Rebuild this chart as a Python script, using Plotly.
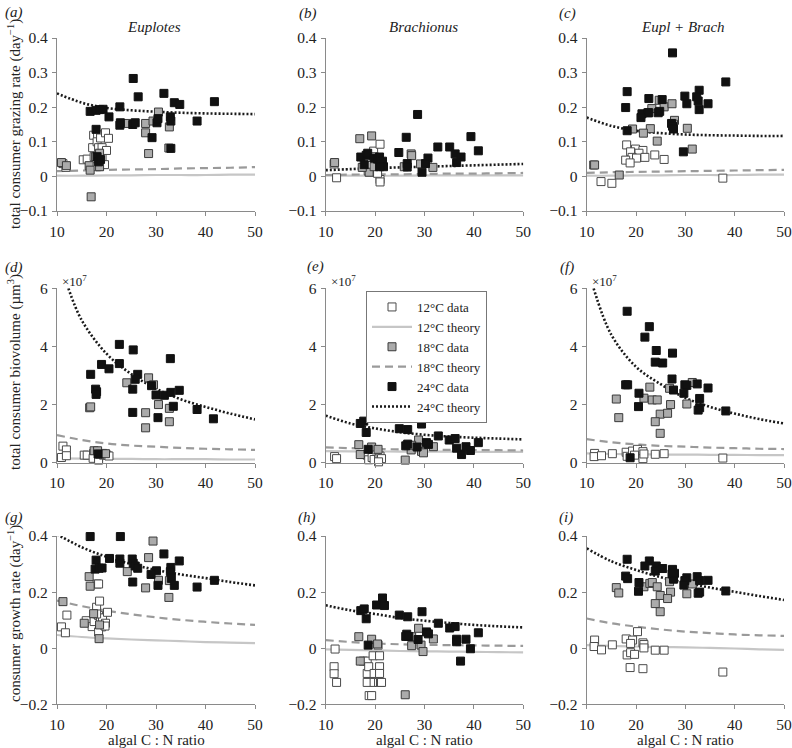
import plotly.graph_objects as go

# ---------------- data ----------------
# x = algal C:N ratio, y = response
A_12 = [(11.2,0.037),(11.8,0.026),(15.3,0.048),(16.1,0.05),(17.4,0.119),(17.2,0.083),(17.5,0.057),(18.2,0.12),
        (18.1,0.1),(18.4,0.083),(18.8,0.111),(19.1,0.083),(19.1,0.057),(19.8,0.126),(20.0,0.075),(20.4,0.11),
        (19.6,0.034),(18.0,0.028)]
A_18 = [(10.9,0.04),(11.9,0.031),(16.5,0.031),(16.7,0.018),(16.9,-0.059),(17.8,0.057),(18.6,0.028),(24.2,0.153),
        (27.9,0.153),(27.9,0.126),(28.5,0.066),(29.4,0.16),(30.5,0.186),(32.7,0.143),(32.6,0.082),(18.6,0.067)]
A_24 = [(25.4,0.283),(26.4,0.23),(31.6,0.24),(33.7,0.213),(34.8,0.208),(41.8,0.216),(16.7,0.188),(17.9,0.191),
        (18.6,0.193),(19.3,0.194),(22.7,0.201),(20.5,0.172),(22.7,0.148),(22.8,0.155),(25.3,0.15),(25.8,0.155),
        (30.2,0.155),(30.4,0.167),(32.9,0.172),(33.0,0.16),(29.2,0.112),(33.0,0.081),(38.3,0.16),(17.9,0.136),
        (18.1,0.057),(18.4,0.042),(18.8,0.049)]

B_12 = [(11.7,0.036),(12.2,-0.004),(19.7,0.073),(21.0,0.093),(19.8,0.057),(19.6,0.032),(20.7,0.033),(21.0,-0.009),
        (21.0,-0.016),(18.6,0.016),(19.9,0.014),(20.5,0.009),(19.0,0.031)]
B_18 = [(11.8,0.04),(16.9,0.109),(19.3,0.117),(27.3,0.065),(27.4,0.06),(29.2,0.036),(25.9,0.028),(31.7,0.026),
        (18.8,0.012),(17.4,0.026),(19.8,0.028)]
B_24 = [(28.6,0.179),(26.3,0.113),(39.4,0.115),(32.7,0.085),(35.1,0.085),(40.9,0.074),(24.8,0.069),(36.2,0.065),
        (37.4,0.056),(30.7,0.053),(36.5,0.04),(30.2,0.037),(26.5,0.037),(26.5,0.027),(29.5,0.012),(17.1,0.056),
        (17.8,0.034),(18.2,0.061),(18.5,0.067),(19.8,0.053),(20.5,0.05),(20.9,0.056),(21.5,0.044),(21.7,0.028),
        (20.9,0.028)]

C_12 = [(18.1,0.091),(19.9,0.079),(21.4,0.075),(18.9,0.071),(20.6,0.067),(19.2,0.055),(20.1,0.053),(21.8,0.055),
        (17.9,0.047),(18.8,0.039),(23.8,0.062),(25.7,0.049),(11.4,0.033),(12.9,-0.015),(15.1,-0.02),(37.6,-0.005)]
C_18 = [(24.7,0.22),(25.7,0.201),(27.3,0.21),(23.2,0.196),(27.8,0.162),(27.6,0.151),(22.9,0.138),(30.4,0.139),
        (19.3,0.137),(21.5,0.125),(24.3,0.102),(31.4,0.079),(16.6,0.004),(11.6,0.033)]
C_24 = [(27.4,0.357),(38.2,0.273),(18.2,0.245),(32.8,0.249),(17.9,0.199),(22.6,0.225),(25.3,0.222),(29.9,0.232),
        (32.3,0.23),(32.6,0.218),(30.3,0.21),(34.6,0.21),(32.8,0.193),(21.2,0.181),(22.4,0.184),(22.6,0.184),
        (24.5,0.184),(24.8,0.188),(21.0,0.17),(18.2,0.132),(27.2,0.153),(27.4,0.145),(27.6,0.137),(29.6,0.071)]

D_12 = [(11.2,0.57),(11.9,0.44),(10.9,0.18),(11.9,0.24),(15.5,0.26),(16.1,0.26),(17.4,0.32),(17.3,0.15),
        (18.4,0.18),(18.4,0.09),(19.2,0.32),(19.4,0.26),(20.1,0.26),(20.5,0.23)]
D_18 = [(16.6,1.89),(16.8,1.92),(24.1,2.75),(28.5,2.92),(29.5,2.68),(30.5,2.0),(27.9,1.72),(32.7,1.87),
        (32.7,1.41),(27.9,1.2),(17.5,0.41),(18.2,0.41),(18.6,0.29),(19.8,0.31)]
D_24 = [(22.6,4.07),(25.4,3.88),(32.9,3.58),(19.0,3.38),(22.6,3.41),(20.5,3.23),(16.8,3.04),(26.3,3.04),
        (25.8,2.87),(17.8,2.53),(18.0,2.44),(17.9,2.35),(25.3,2.53),(29.1,2.65),(30.0,2.33),(31.7,2.32),
        (33.0,2.42),(34.7,2.49),(33.5,1.94),(25.3,1.73),(30.4,1.55),(38.3,1.83),(41.6,1.51),(18.3,0.3)]

E_12 = [(11.8,0.21),(12.2,0.14),(18.4,0.26),(18.7,0.10),(19.4,0.18),(19.8,0.11),(20.7,0.13),(21.0,0.23),
        (21.3,0.14),(20.7,0.03),(20.2,0.44)]
E_18 = [(16.7,0.62),(17.0,0.28),(19.3,0.54),(20.6,0.46),(26.1,0.09),(28.8,0.78),(27.3,0.44),(29.4,0.39),
        (29.8,0.34),(31.8,0.55),(27.4,0.6)]
E_24 = [(21.5,2.04),(20.3,1.65),(21.8,1.58),(17.7,1.43),(17.0,1.35),(18.2,1.04),(24.9,1.17),(26.6,1.14),
        (29.4,1.33),(32.8,0.92),(35.0,0.78),(36.2,0.83),(40.9,0.69),(30.4,0.69),(30.8,0.63),(26.6,0.64),
        (26.2,0.58),(28.5,0.54),(36.5,0.5),(38.4,0.55),(39.3,0.42),(37.5,0.28),(18.6,0.46)]

F_12 = [(11.6,0.32),(11.5,0.21),(13.0,0.24),(15.2,0.31),(18.0,0.36),(18.2,0.22),(19.3,0.4),(20.3,0.46),
        (21.4,0.38),(21.4,0.14),(21.6,0.3),(19.7,0.26),(23.9,0.29),(25.7,0.31),(37.6,0.16)]
F_18 = [(16.0,2.19),(16.5,1.55),(22.8,2.6),(21.6,2.22),(23.3,2.16),(24.3,2.16),(26.8,2.56),(27.0,2.0),
        (31.4,2.76),(30.3,2.02),(24.9,1.67),(26.4,1.7),(23.9,1.41),(24.9,1.01)]
F_24 = [(18.2,5.21),(22.7,4.68),(21.8,4.32),(24.1,3.86),(27.4,3.77),(23.9,3.46),(25.4,3.43),(27.3,2.88),
        (17.9,2.68),(18.3,2.68),(27.6,2.5),(29.9,2.68),(30.3,2.66),(32.4,2.71),(34.6,2.57),(20.6,2.39),
        (29.7,2.39),(32.9,2.21),(20.5,1.93),(32.9,1.89),(32.6,1.81),(38.2,1.78),(18.8,0.17)]

G_12 = [(10.9,0.076),(11.7,0.055),(12.0,0.118),(15.9,0.098),(17.1,0.077),(17.5,0.095),(18.0,0.146),(18.1,0.229),
        (18.4,0.229),(18.4,0.117),(18.6,0.168),(18.8,0.107),(19.0,0.076),(18.4,0.058),(19.2,0.108),(19.8,0.089),
        (20.2,0.128),(19.7,0.079),(18.0,0.122)]
G_18 = [(29.4,0.382),(28.5,0.323),(16.5,0.255),(16.7,0.221),(24.2,0.273),(30.5,0.242),(32.7,0.241),(27.9,0.215),
        (32.6,0.181),(11.2,0.166),(15.5,0.089),(17.4,0.123),(18.6,0.083),(18.5,0.034)]
G_24 = [(16.7,0.398),(22.8,0.398),(31.6,0.336),(17.9,0.314),(20.6,0.32),(22.7,0.318),(22.7,0.303),(25.2,0.318),
        (25.4,0.303),(34.7,0.311),(33.0,0.288),(25.8,0.293),(26.3,0.285),(17.7,0.282),(18.5,0.285),(19.1,0.286),
        (30.1,0.276),(29.0,0.263),(32.9,0.273),(33.1,0.249),(25.3,0.236),(30.4,0.224),(33.7,0.224),(41.8,0.242),
        (38.3,0.218)]

H_12 = [(11.9,-0.003),(11.7,-0.066),(11.7,-0.091),(12.2,-0.122),(17.6,-0.046),(18.4,-0.046),(18.4,-0.09),
        (18.4,-0.122),(18.7,-0.066),(18.8,-0.169),(19.3,-0.169),(19.6,-0.027),(19.8,-0.09),(19.8,-0.122),
        (20.6,0.011),(20.7,-0.122),(20.9,-0.027),(20.9,-0.066),(20.9,-0.09),(21.1,-0.122),(21.3,-0.122)]
H_18 = [(16.7,0.041),(19.3,0.032),(17.0,-0.046),(27.4,0.041),(28.8,0.071),(31.8,0.033),(27.4,0.009),(29.3,0.011),
        (29.7,-0.012),(26.1,-0.166),(20.5,0.015)]
H_24 = [(21.5,0.179),(20.3,0.154),(21.9,0.152),(17.1,0.134),(17.8,0.14),(18.2,0.105),(24.9,0.118),(26.6,0.112),
        (29.5,0.13),(32.8,0.089),(35.1,0.072),(36.2,0.077),(40.9,0.055),(30.4,0.058),(30.8,0.051),(26.4,0.05),
        (26.2,0.042),(26.8,0.042),(28.7,0.031),(36.5,0.032),(38.4,0.032),(36.5,0.023),(39.3,-0.002),(37.3,-0.046),
        (18.6,0.011)]

I_12 = [(11.6,0.029),(11.5,0.006),(13.0,-0.006),(15.2,0.012),(18.0,0.033),(18.2,-0.024),(19.3,0.029),(20.3,0.059),
        (21.4,0.019),(21.6,0.013),(21.6,0.001),(18.9,0.017),(18.9,-0.016),(19.7,-0.022),(18.8,-0.069),(21.4,-0.073),
        (23.9,-0.007),(25.7,-0.007),(37.6,-0.085)]
I_18 = [(16.0,0.216),(16.5,0.197),(21.6,0.219),(22.8,0.231),(23.3,0.234),(24.3,0.219),(26.8,0.237),(27.0,0.2),
        (31.4,0.229),(30.3,0.194),(24.9,0.188),(26.4,0.177),(23.9,0.159),(24.9,0.13)]
I_24 = [(18.2,0.317),(22.7,0.311),(21.8,0.293),(24.1,0.293),(23.9,0.275),(25.4,0.284),(27.4,0.281),(27.3,0.265),
        (17.9,0.257),(18.3,0.248),(27.6,0.246),(30.3,0.251),(29.9,0.241),(32.4,0.255),(34.6,0.242),(20.6,0.234),
        (29.7,0.225),(32.9,0.241),(20.5,0.203),(32.9,0.2),(32.6,0.196),(38.2,0.204),(27.8,0.267)]

# theory curves, read at these C:N values
TX = [10, 15, 20, 25, 30, 35, 40, 45, 50]
D_TX24 = [12.3, 15, 20, 25, 30, 35, 40, 45, 50]
F_TX24 = [11.4, 15, 20, 25, 30, 35, 40, 45, 50]

A_T12 = [0.002, 0.002, 0.003, 0.003, 0.004, 0.004, 0.004, 0.005, 0.005]
A_T18 = [0.015, 0.017, 0.019, 0.020, 0.021, 0.023, 0.024, 0.025, 0.027]
A_T24 = [0.240, 0.213, 0.198, 0.191, 0.187, 0.184, 0.182, 0.181, 0.180]
B_T12 = [0.002, 0.002, 0.002, 0.002, 0.003, 0.003, 0.003, 0.003, 0.003]
B_T18 = [0.004, 0.005, 0.006, 0.006, 0.007, 0.008, 0.008, 0.009, 0.010]
B_T24 = [0.018, 0.021, 0.024, 0.026, 0.028, 0.030, 0.032, 0.034, 0.036]
C_T12 = [0.002, 0.002, 0.003, 0.003, 0.004, 0.004, 0.004, 0.005, 0.005]
C_T18 = [0.010, 0.012, 0.013, 0.014, 0.015, 0.016, 0.017, 0.018, 0.019]
C_T24 = [0.170, 0.146, 0.132, 0.125, 0.121, 0.119, 0.118, 0.117, 0.117]
D_T12 = [0.15, 0.14, 0.13, 0.13, 0.12, 0.12, 0.12, 0.11, 0.11]
D_T18 = [0.95, 0.78, 0.66, 0.59, 0.55, 0.51, 0.48, 0.46, 0.44]
D_T24 = [6.0, 4.9, 3.75, 3.05, 2.55, 2.18, 1.92, 1.69, 1.49]
E_T12 = [0.40, 0.39, 0.39, 0.38, 0.38, 0.38, 0.37, 0.37, 0.37]
E_T18 = [0.53, 0.50, 0.47, 0.46, 0.45, 0.44, 0.43, 0.43, 0.42]
E_T24 = [1.62, 1.35, 1.18, 1.05, 0.96, 0.90, 0.86, 0.83, 0.80]
F_T12 = [0.32, 0.30, 0.29, 0.28, 0.28, 0.27, 0.27, 0.26, 0.26]
F_T18 = [0.81, 0.70, 0.63, 0.58, 0.55, 0.52, 0.50, 0.48, 0.47]
F_T24 = [6.0, 4.4, 3.3, 2.7, 2.23, 1.92, 1.69, 1.5, 1.35]
G_T12 = [0.047, 0.040, 0.035, 0.031, 0.028, 0.025, 0.022, 0.020, 0.018]
G_T18 = [0.170, 0.150, 0.134, 0.121, 0.110, 0.101, 0.094, 0.088, 0.083]
G_T24 = [0.406, 0.360, 0.326, 0.300, 0.279, 0.263, 0.250, 0.236, 0.224]
H_T12 = [-0.004, -0.006, -0.008, -0.010, -0.011, -0.012, -0.013, -0.014, -0.015]
H_T18 = [0.029, 0.022, 0.017, 0.014, 0.012, 0.011, 0.010, 0.009, 0.008]
H_T24 = [0.153, 0.135, 0.122, 0.108, 0.098, 0.090, 0.083, 0.078, 0.074]
I_T12 = [0.011, 0.008, 0.006, 0.004, 0.003, 0.001, -0.001, -0.004, -0.006]
I_T18 = [0.106, 0.089, 0.077, 0.067, 0.059, 0.054, 0.049, 0.046, 0.044]
I_T24 = [0.356, 0.310, 0.279, 0.253, 0.234, 0.216, 0.201, 0.186, 0.172]

PANEL_LETTERS = ["a", "b", "c", "d", "e", "f", "g", "h", "i"]
COLUMN_TITLES = ["Euplotes", "Brachionus", "Eupl + Brach"]
ROW_YTITLES = ["total consumer grazing rate (day<sup>−1</sup>)",
               "total consumer biovolume (µm<sup>3</sup>)",
               "consumer growth rate (day<sup>−1</sup>)"]
X_TITLE = "algal C : N ratio"
X_TICKS = [10, 20, 30, 40, 50]
ROW1_TICKS = [-0.1, 0, 0.1, 0.2, 0.3, 0.4]
ROW1_LABELS = ["−0.1", "0", "0.1", "0.2", "0.3", "0.4"]
ROW2_TICKS = [0, 2, 4, 6]
ROW2_LABELS = ["0", "2", "4", "6"]
ROW3_TICKS = [-0.2, 0, 0.2, 0.4]
ROW3_LABELS = ["−0.2", "0", "0.2", "0.4"]
LEGEND_NAMES = ["12°C data", "12°C theory", "18°C data", "18°C theory", "24°C data", "24°C theory"]

# ---------------- figure ----------------
W, H = 792, 748
FONT = "Liberation Serif"


def px_x(p):
    return p / W


def px_y(p):
    return 1 - p / H


col_px = [(57, 255), (325.7, 523.3), (586.7, 784)]
row_px = [(38, 211), (288.3, 462.7), (536, 704.3)]

panels = [
    (A_12, A_18, A_24, TX, A_T12, A_T18, TX, A_T24),
    (B_12, B_18, B_24, TX, B_T12, B_T18, TX, B_T24),
    (C_12, C_18, C_24, TX, C_T12, C_T18, TX, C_T24),
    (D_12, D_18, D_24, TX, D_T12, D_T18, D_TX24, D_T24),
    (E_12, E_18, E_24, TX, E_T12, E_T18, TX, E_T24),
    (F_12, F_18, F_24, TX, F_T12, F_T18, F_TX24, F_T24),
    (G_12, G_18, G_24, TX, G_T12, G_T18, TX, G_T24),
    (H_12, H_18, H_24, TX, H_T12, H_T18, TX, H_T24),
    (I_12, I_18, I_24, TX, I_T12, I_T18, TX, I_T24),
]
row_ticks = [(ROW1_TICKS, ROW1_LABELS, [-0.1, 0.4]),
             (ROW2_TICKS, ROW2_LABELS, [0, 6]),
             (ROW3_TICKS, ROW3_LABELS, [-0.2, 0.4])]

fig = go.Figure()
layout = {}
AX = "#8a8a8a"
TXT = "#222222"
line12 = dict(color="#c6c6c6", width=2.2)
line18 = dict(color="#9a9a9a", width=2.2, dash="8px,5px")
line24 = dict(color="#1a1a1a", width=2.6, dash="2px,2px")
mk12 = dict(symbol="square", size=8, color="white", line=dict(color="#4a4a4a", width=1))
mk18 = dict(symbol="square", size=8, color="#ababab", line=dict(color="#3a3a3a", width=1))
mk24 = dict(symbol="square", size=8, color="#111111", line=dict(color="#111111", width=1))

for k, (d12, d18, d24, tx, t12, t18, tx24, t24) in enumerate(panels):
    r, c = divmod(k, 3)
    n = "" if k == 0 else str(k + 1)
    xa, ya = "x" + n, "y" + n
    show = (k == 4)
    traces = [
        (d12, None, mk12, LEGEND_NAMES[0]),
        ((tx, t12), line12, None, LEGEND_NAMES[1]),
        (d18, None, mk18, LEGEND_NAMES[2]),
        ((tx, t18), line18, None, LEGEND_NAMES[3]),
        (d24, None, mk24, LEGEND_NAMES[4]),
        ((tx24, t24), line24, None, LEGEND_NAMES[5]),
    ]
    for rank, (dat, ln, mk, name) in enumerate(traces):
        if ln is not None:
            fig.add_trace(go.Scatter(x=dat[0], y=dat[1], mode="lines", line=dict(ln, shape="spline"),
                                     name=name, showlegend=show, legendrank=rank + 1,
                                     xaxis=xa, yaxis=ya, hoverinfo="skip"))
    for rank, (dat, ln, mk, name) in enumerate(traces):
        if mk is not None:
            fig.add_trace(go.Scatter(x=[p[0] for p in dat], y=[p[1] for p in dat], mode="markers",
                                     marker=mk, name=name, showlegend=show, legendrank=rank + 1,
                                     xaxis=xa, yaxis=ya, cliponaxis=False))
    x0, x1 = col_px[c]
    y0, y1 = row_px[r]
    tv, tt, rng = row_ticks[r]
    common = dict(showline=True, linecolor=AX, linewidth=1.2, ticks="outside",
                  ticklen=4, tickcolor=AX, showgrid=False, zeroline=False, automargin=False,
                  tickfont=dict(family=FONT, size=15.5, color=TXT))
    layout["xaxis" + n] = dict(domain=[px_x(x0), px_x(x1)], range=[10, 50], anchor=ya,
                               tickvals=X_TICKS, ticktext=[str(v) for v in X_TICKS],
                               ticklabelstandoff=2, **common)
    layout["yaxis" + n] = dict(domain=[px_y(y1), px_y(y0)], range=rng, anchor=xa,
                               tickvals=tv, ticktext=tt, ticklabelstandoff=1, **common)

ann = []
label_pos = [(3, 13), (297, 14), (557, 14), (3, 267), (305, 266), (558, 267), (3, 517), (296, 517), (557, 517)]
for letter, (px, py) in zip(PANEL_LETTERS, label_pos):
    ann.append(dict(text="<i>(" + letter + ")</i>", x=px_x(px), y=px_y(py), xref="paper", yref="paper",
                    xanchor="left", yanchor="middle", showarrow=False,
                    font=dict(family=FONT, size=15, color=TXT)))
for t, cx in zip(COLUMN_TITLES, [154, 423, 683]):
    ann.append(dict(text="<i>" + t + "</i>", x=px_x(cx), y=px_y(27), xref="paper", yref="paper",
                    xanchor="center", yanchor="middle", showarrow=False,
                    font=dict(family=FONT, size=15, color=TXT)))
for t, cy in zip(ROW_YTITLES, [124, 372, 614]):
    ann.append(dict(text=t, x=px_x(14), y=px_y(cy), xref="paper", yref="paper", textangle=-90,
                    xanchor="center", yanchor="middle", showarrow=False,
                    font=dict(family=FONT, size=15, color=TXT)))
for cx in [156, 424.5, 685]:
    ann.append(dict(text=X_TITLE, x=px_x(cx), y=px_y(740), xref="paper", yref="paper",
                    xanchor="center", yanchor="middle", showarrow=False,
                    font=dict(family=FONT, size=15, color=TXT)))
for px in [60, 329, 590]:
    ann.append(dict(text="×10<sup>7</sup>", x=px_x(px), y=px_y(281), xref="paper", yref="paper",
                    xanchor="left", yanchor="middle", showarrow=False,
                    font=dict(family=FONT, size=13, color=TXT)))

fig.update_layout(
    width=W, height=H, margin=dict(l=0, r=0, t=0, b=0),
    paper_bgcolor="white", plot_bgcolor="white",
    annotations=ann,
    legend=dict(x=px_x(366), y=px_y(291), xanchor="left", yanchor="top",
                bordercolor="#777", borderwidth=1, bgcolor="white",
                font=dict(family=FONT, size=13, color=TXT), tracegroupgap=0,
                itemwidth=40),
    **layout,
)
# remove the browser's default 8px page margin so the figure fills the window exactly
fig.write_html("out.html", config={"displayModeBar": False},
               post_script="document.body.style.margin='0px';")
